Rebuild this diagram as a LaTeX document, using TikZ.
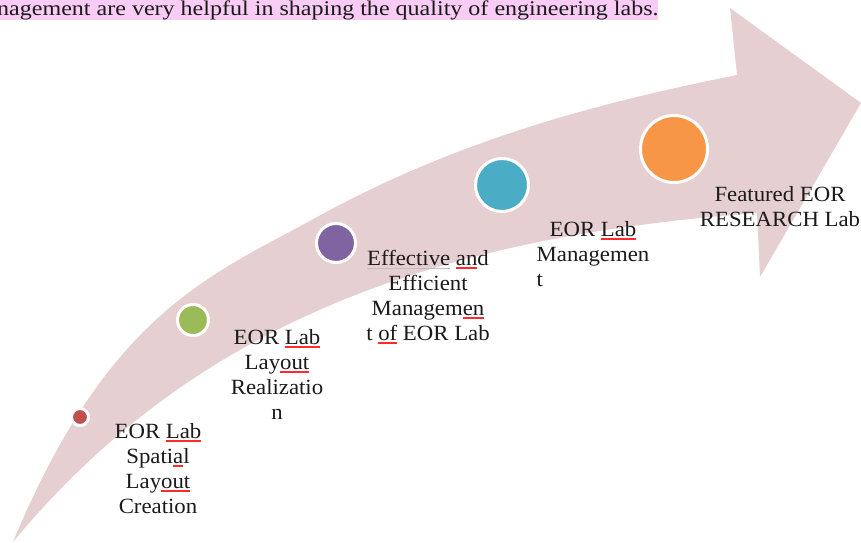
\documentclass[tikz,border=0pt]{standalone}
\usepackage{fontspec}
\setmainfont{Liberation Serif}[FakeStretch=1.05]
\newfontfamily\topfont{Liberation Serif}[FakeStretch=1.15]
\definecolor{band}{HTML}{E6CFD1}
\definecolor{hl}{HTML}{F9CCF5}
\definecolor{txt}{HTML}{1A1A1A}
\definecolor{cred}{HTML}{C0504D}
\definecolor{cgreen}{HTML}{9BBB59}
\definecolor{cpurple}{HTML}{8064A2}
\definecolor{cteal}{HTML}{4BACC6}
\definecolor{corange}{HTML}{F79646}
\definecolor{squig}{HTML}{FF2A2A}
\newcommand\squ[1]{\setbox0\hbox{#1}\rlap{\textcolor{squig}{\rule[-3.5pt]{\wd0}{1.3pt}}}#1}
\newcommand\gru[1]{\setbox0\hbox{#1}\rlap{\textcolor{gray!50}{\rule[-3.5pt]{\wd0}{0.8pt}}}#1}
\tikzset{
  dot/.style={circle, draw=white, line width=3pt, inner sep=0pt},
  lbl/.style={align=center, inner sep=0pt, text=txt, font=\fontsize{21.7pt}{25pt}\selectfont, anchor=base},
}
\begin{document}
\begin{tikzpicture}[x=1pt,y=-1pt]
\useasboundingbox (0,0) rectangle (861,542);
% top highlighted text
\fill[hl] (0,0) rectangle (658,20);
\node[anchor=base west, inner sep=0pt, text=txt, font=\topfont\fontsize{20.9pt}{22pt}\selectfont] (top) at (-3,15) {nagement are very helpful in shaping the quality of engineering labs.};
% curved arrow band
\fill[band] (13,542) .. controls (109,311) and (212,275) .. (317,217)
  .. controls (457,140) and (597,103) .. (737,75)
  -- (730,8) -- (861,103) -- (760,277) -- (757,213)
  .. controls (458,235.5) and (204,311) .. (13,542) -- cycle;
% milestone circles
\node[dot, fill=cred, minimum size=17pt] (c1) at (80,417) {};
\node[dot, fill=cgreen, minimum size=31pt] (c2) at (193,320) {};
\node[dot, fill=cpurple, minimum size=39pt] (c3) at (336,243) {};
\node[dot, fill=cteal, minimum size=53pt] (c4) at (502,185) {};
\node[dot, fill=corange, minimum size=67pt] (c5) at (674,149) {};
% labels (anchored at the baseline of the last line)
\node[lbl] (t1) at (158,513) {EOR \squ{Lab}\\ Spati\squ{a}l\\ Lay\squ{out}\\ Creation};
\node[lbl] (t2) at (277,419) {EOR \squ{Lab}\\ Lay\squ{out}\\ Realizatio\\ n};
\node[lbl] (t3) at (428,340) {\gru{Effective} \squ{an}d\\ Efficient\\ Managem\squ{en}\\ t \squ{of} EOR Lab};
\node[lbl] (t4) at (593,286) {EOR \squ{Lab}\\ Managemen\\ \rlap{t}\phantom{Managemen}};
\node[lbl] (t5) at (780,226) {Featured EOR\\ RESEARCH Lab};
\end{tikzpicture}
\end{document}
